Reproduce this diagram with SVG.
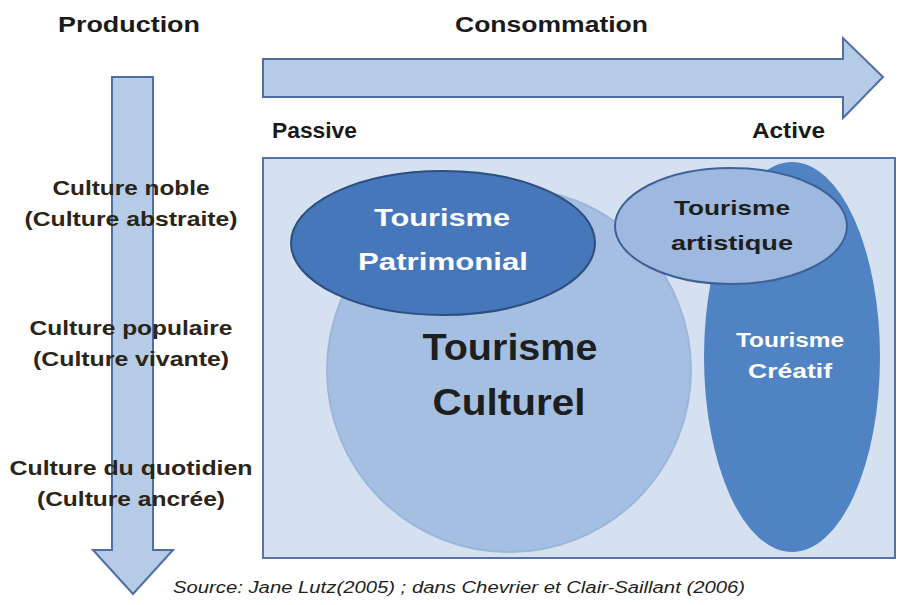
<svg xmlns="http://www.w3.org/2000/svg" width="899" height="605" viewBox="0 0 899 605">
<style>
text{font-family:"Liberation Sans","Open Sans",sans-serif;font-weight:bold;}
.axis{font-size:22px;fill:#1a1a1a;}
.lbl{font-size:20px;fill:#2b2418;text-anchor:middle;}
.arrow{fill:#b5cbe6;stroke:#4f6fa2;stroke-width:2;}
.w{fill:#ffffff;text-anchor:middle;}
.d{fill:#1e1e1e;text-anchor:middle;}
.src{font-size:16px;font-weight:normal;font-style:italic;fill:#1e1e1e;}
</style>
<rect width="899" height="605" fill="#ffffff"/>
<g id="connectors">
<polygon class="arrow" points="112,77 153,77 153,550 173,550 133,594 93,550 112,550"/>
<polygon class="arrow" points="263,59 843,59 843,38 883,77 843,118 843,97 263,97"/>
</g>
<g id="axis-labels">
<text class="axis" x="58" y="32" textLength="142" lengthAdjust="spacingAndGlyphs">Production</text>
<text class="axis" x="455" y="32" textLength="193" lengthAdjust="spacingAndGlyphs">Consommation</text>
<text class="axis" x="272" y="138" font-size="20" textLength="85" lengthAdjust="spacingAndGlyphs">Passive</text>
<text class="axis" x="752" y="138" font-size="20" textLength="73" lengthAdjust="spacingAndGlyphs">Active</text>
</g>
<g id="levels">
<text class="lbl" x="131" y="195" textLength="157" lengthAdjust="spacingAndGlyphs">Culture noble</text>
<text class="lbl" x="131" y="226" textLength="213" lengthAdjust="spacingAndGlyphs">(Culture abstraite)</text>
<text class="lbl" x="131" y="335" textLength="203" lengthAdjust="spacingAndGlyphs">Culture populaire</text>
<text class="lbl" x="131" y="366" textLength="196" lengthAdjust="spacingAndGlyphs">(Culture vivante)</text>
<text class="lbl" x="131" y="475" textLength="243" lengthAdjust="spacingAndGlyphs">Culture du quotidien</text>
<text class="lbl" x="131" y="506" textLength="188" lengthAdjust="spacingAndGlyphs">(Culture ancrée)</text>
</g>
<g id="frame">
<rect x="263" y="158" width="632" height="400" fill="#d5e1f0" stroke="#5474a8" stroke-width="2"/>
</g>
<g id="creatif">
<ellipse cx="792" cy="357" rx="88" ry="195" fill="#5083c4"/>
<text class="w" x="790" y="347" font-size="20" textLength="108" lengthAdjust="spacingAndGlyphs">Tourisme</text>
<text class="w" x="790" y="378" font-size="20" textLength="84" lengthAdjust="spacingAndGlyphs">Créatif</text>
</g>
<g id="culturel">
<circle cx="509" cy="370" r="182" fill="#a4bfe2" stroke="#9bb6da" stroke-width="2"/>
<text class="d" x="510" y="360" font-size="36" textLength="175" lengthAdjust="spacingAndGlyphs">Tourisme</text>
<text class="d" x="509" y="415" font-size="36" textLength="153" lengthAdjust="spacingAndGlyphs">Culturel</text>
</g>
<g id="patrimonial">
<ellipse cx="443" cy="243" rx="152" ry="72" fill="#4677bb" stroke="#2c4f80" stroke-width="2"/>
<text class="w" x="442" y="226" font-size="24" textLength="136" lengthAdjust="spacingAndGlyphs">Tourisme</text>
<text class="w" x="443" y="270" font-size="24" textLength="170" lengthAdjust="spacingAndGlyphs">Patrimonial</text>
</g>
<g id="artistique">
<ellipse cx="731" cy="226" rx="116" ry="58" fill="#9db9e0" stroke="#3f6196" stroke-width="2"/>
<text class="d" x="732" y="215" font-size="21" textLength="116" lengthAdjust="spacingAndGlyphs">Tourisme</text>
<text class="d" x="732" y="250" font-size="21" textLength="122" lengthAdjust="spacingAndGlyphs">artistique</text>
</g>
<g id="source">
<text class="src" x="173" y="593" textLength="572" lengthAdjust="spacingAndGlyphs">Source: Jane Lutz(2005) ; dans Chevrier et Clair-Saillant (2006)</text>
</g>
</svg>
